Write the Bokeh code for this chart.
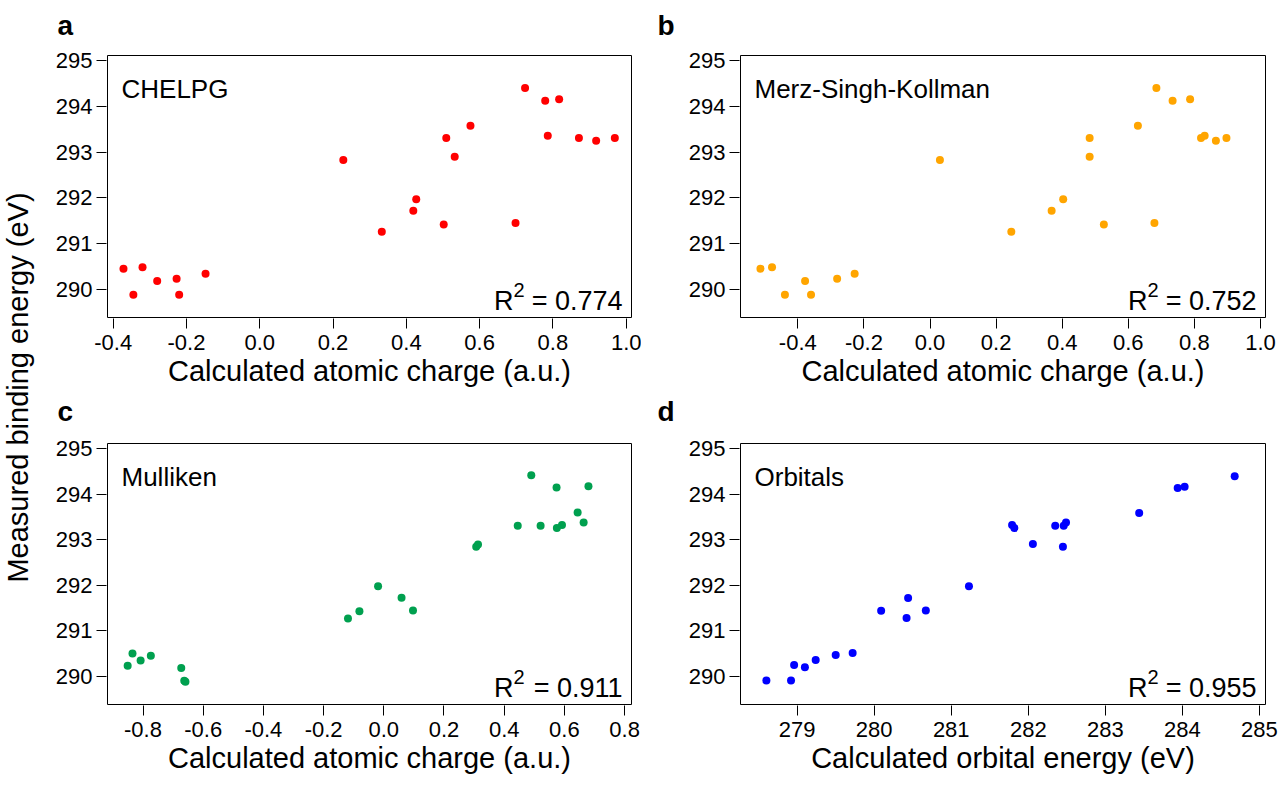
import math
from bokeh.plotting import figure
from bokeh.models import Range1d, FixedTicker, Label, NumeralTickFormatter
from bokeh.layouts import row, column
from bokeh.embed import file_html
from bokeh.resources import INLINE

# ---------------- data ----------------
chelpg_x = [-0.372, -0.345, -0.320, -0.280, -0.227, -0.220, -0.148, 0.228, 0.333, 0.419, 0.427,
            0.502, 0.509, 0.532, 0.575, 0.698, 0.724, 0.779, 0.786, 0.817, 0.871, 0.918, 0.969]
chelpg_y = [290.45, 289.88, 290.48, 290.18, 290.23, 289.88, 290.34, 292.83, 291.26, 291.72, 291.97,
            291.42, 293.31, 292.90, 293.58, 291.45, 294.41, 294.13, 293.36, 294.16, 293.31, 293.25, 293.31]

msk_x = [-0.513, -0.478, -0.439, -0.378, -0.360, -0.281, -0.228, 0.030, 0.246, 0.368, 0.403,
         0.483, 0.483, 0.526, 0.629, 0.679, 0.685, 0.734, 0.787, 0.820, 0.831, 0.865, 0.897]
msk_y = [290.45, 290.48, 289.88, 290.18, 289.88, 290.23, 290.34, 292.83, 291.26, 291.72, 291.97,
         293.31, 292.90, 291.42, 293.58, 291.45, 294.41, 294.13, 294.16, 293.31, 293.36, 293.25, 293.31]

mulliken_x = [-0.851, -0.835, -0.808, -0.774, -0.673, -0.663, -0.659, -0.119, -0.081, -0.019, 0.059,
              0.097, 0.307, 0.313, 0.445, 0.490, 0.521, 0.574, 0.575, 0.592, 0.644, 0.664, 0.680]
mulliken_y = [290.23, 290.50, 290.35, 290.45, 290.18, 289.90, 289.88, 291.27, 291.43, 291.98, 291.73,
              291.45, 292.85, 292.90, 293.31, 294.42, 293.31, 294.15, 293.26, 293.33, 293.60, 293.38, 294.18]

orbital_x = [278.60, 278.92, 278.96, 279.10, 279.24, 279.50, 279.72, 280.09, 280.42, 280.44, 280.67,
             281.23, 281.79, 281.82, 282.06, 282.35, 282.45, 282.46, 282.49, 283.44, 283.94, 284.03, 284.68]
orbital_y = [289.91, 289.91, 290.25, 290.20, 290.36, 290.47, 290.51, 291.44, 291.28, 291.72, 291.45,
             291.98, 293.33, 293.26, 292.91, 293.31, 292.85, 293.31, 293.38, 293.59, 294.14, 294.17, 294.40]

panel_names = ["CHELPG", "Merz-Singh-Kollman", "Mulliken", "Orbitals"]
panel_letters = ["a", "b", "c", "d"]
r2_values = ["0.774", "0.752", "0.911", "0.955"]
colors = ["#FF0000", "#FFA500", "#00A04F", "#0000FF"]

charge_ticks_ab = [-0.4, -0.2, 0.0, 0.2, 0.4, 0.6, 0.8, 1.0]
charge_ticks_c = [-0.8, -0.6, -0.4, -0.2, 0.0, 0.2, 0.4, 0.6, 0.8]
orbital_ticks = [279, 280, 281, 282, 283, 284, 285]
energy_ticks = [290, 291, 292, 293, 294, 295]

xlabel_charge = "Calculated atomic charge (a.u.)"
xlabel_orbital = "Calculated orbital energy (eV)"
ylabel = "Measured binding energy (eV)"

FONT = "Liberation Sans"
Y_RANGE = (289.38, 295.12)

# ---------------- layout constants (pixels) ----------------
TF_W = 36                       # width of strip holding shared y title
COL1 = dict(bl=71, fw=524, br=10)
COL2 = dict(bl=99, fw=525, br=13)
ROW1 = dict(bt=9, fh=262, bb=77)
ROW2 = dict(bt=8, fh=261, bb=80)
STRIP1_H = 46
STRIP2_H = 41
GRID_W = sum(COL1.values()) + sum(COL2.values())
TOTAL_H = STRIP1_H + sum(ROW1.values()) + STRIP2_H + sum(ROW2.values())


def no_title(f):
    try:
        f.title = None
    except Exception:
        f.title.visible = False
    return f


def blank(width, height):
    f = figure(width=width, height=height, x_range=Range1d(0, width), y_range=Range1d(0, height),
               output_backend="svg", toolbar_location=None,
               x_axis_location=None, y_axis_location=None,
               min_border=0, min_border_left=0, min_border_right=0,
               min_border_top=0, min_border_bottom=0)
    no_title(f)
    f.xgrid.visible = False
    f.ygrid.visible = False
    f.outline_line_color = None
    f.background_fill_color = "white"
    f.border_fill_color = "white"
    return f


def panel(xs, ys, color, xr, xticks, fmt, name, r2, xlabel, col, rw):
    bl, fw, br = col["bl"], col["fw"], col["br"]
    bt, fh, bb = rw["bt"], rw["fh"], rw["bb"]
    p = figure(width=bl + fw + br, height=bt + fh + bb,
               x_range=Range1d(*xr), y_range=Range1d(*Y_RANGE),
               output_backend="svg", toolbar_location=None,
               min_border_left=bl, min_border_right=br,
               min_border_top=bt, min_border_bottom=bb)
    no_title(p)
    p.xgrid.visible = False
    p.ygrid.visible = False
    p.outline_line_color = "black"
    p.outline_line_width = 1
    p.background_fill_color = "white"
    p.border_fill_color = "white"

    p.scatter(xs, ys, size=8, fill_color=color, line_color=color, line_width=0)

    for ax in (p.xaxis[0], p.yaxis[0]):
        ax.axis_line_color = None
        ax.major_tick_in = -1
        ax.major_tick_out = 11
        ax.major_tick_line_color = "black"
        ax.major_tick_line_width = 1
        ax.minor_tick_line_color = None
        ax.major_label_text_font = FONT
        ax.major_label_text_font_size = "22px"
        ax.major_label_text_color = "black"

    xa = p.xaxis[0]
    xa.ticker = FixedTicker(ticks=xticks)
    xa.formatter = NumeralTickFormatter(format=fmt)
    xa.major_label_standoff = 6
    xa.axis_label = xlabel
    xa.axis_label_text_font = FONT
    xa.axis_label_text_font_size = "29px"
    xa.axis_label_text_font_style = "normal"
    xa.axis_label_text_color = "black"
    xa.axis_label_standoff = 2

    ya = p.yaxis[0]
    ya.ticker = FixedTicker(ticks=energy_ticks)
    ya.major_label_standoff = 4

    x0, x1 = xr
    y0, y1 = Y_RANGE
    p.add_layout(Label(x=x0, y=y1, x_offset=14, y_offset=-33, text=name,
                       text_font=FONT, text_font_size="26px", text_color="black",
                       text_align="left", text_baseline="alphabetic"))
    # R^2 annotation (R, superscript 2, value)
    p.add_layout(Label(x=x1, y=y0, x_offset=-9, y_offset=17, text="= " + r2,
                       text_font=FONT, text_font_size="27px", text_color="black",
                       text_align="right", text_baseline="alphabetic"))
    p.add_layout(Label(x=x1, y=y0, x_offset=-107, y_offset=28, text="2",
                       text_font=FONT, text_font_size="20px", text_color="black",
                       text_align="right", text_baseline="alphabetic"))
    p.add_layout(Label(x=x1, y=y0, x_offset=-118, y_offset=17, text="R",
                       text_font=FONT, text_font_size="27px", text_color="black",
                       text_align="right", text_baseline="alphabetic"))
    return p


pa = panel(chelpg_x, chelpg_y, colors[0], (-0.4156, 1.0145), charge_ticks_ab, "0.0",
           panel_names[0], r2_values[0], xlabel_charge, COL1, ROW1)
pb = panel(msk_x, msk_y, colors[1], (-0.5734, 1.0151), charge_ticks_ab, "0.0",
           panel_names[1], r2_values[1], xlabel_charge, COL2, ROW1)
pc = panel(mulliken_x, mulliken_y, colors[2], (-0.918, 0.823), charge_ticks_c, "0.0",
           panel_names[2], r2_values[2], xlabel_charge, COL1, ROW2)
pd = panel(orbital_x, orbital_y, colors[3], (278.264, 285.08), orbital_ticks, "0",
           panel_names[3], r2_values[3], xlabel_orbital, COL2, ROW2)


# panel letters, drawn in thin strips above each row (anchored at the text top)
def letter_strip(height, letters, top_from_top):
    s = blank(GRID_W, height)
    xs = (21, sum(COL1.values()) + 16)
    for lt, x in zip(letters, xs):
        s.add_layout(Label(x=x, y=height - top_from_top, text=lt,
                           text_font=FONT, text_font_size="28px", text_font_style="bold",
                           text_color="black", text_align="left", text_baseline="top"))
    return s


strip1 = letter_strip(STRIP1_H, panel_letters[:2], 9)
strip2 = letter_strip(STRIP2_H, panel_letters[2:], 1)

# shared y-axis title
tf = blank(TF_W, TOTAL_H)
tf.add_layout(Label(x=17, y=TOTAL_H - 387, text=ylabel, angle=math.pi / 2,
                    text_font=FONT, text_font_size="29px", text_color="black",
                    text_align="center", text_baseline="middle"))

layout = row(tf, column(strip1, row(pa, pb), strip2, row(pc, pd)))

open("out.html", "w").write(file_html(layout, INLINE))
